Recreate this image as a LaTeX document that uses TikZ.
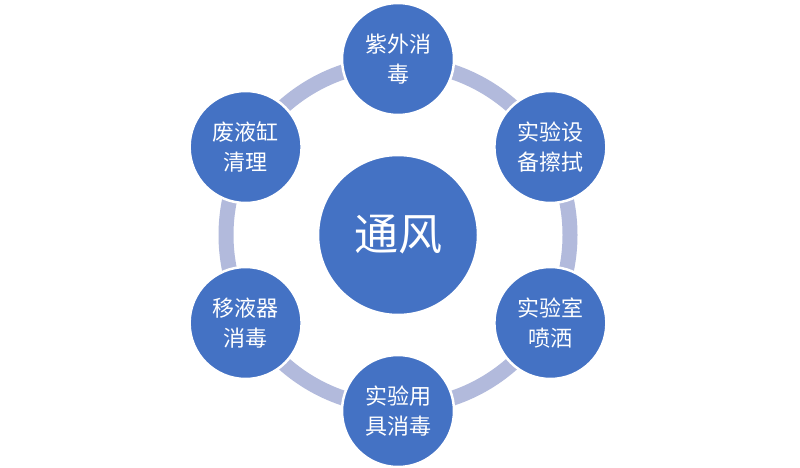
\documentclass[tikz,border=0pt]{standalone}
\usepackage{fontspec}
\newfontfamily\cjk{Noto Sans CJK SC}
\definecolor{circblue}{RGB}{68,114,196}
\definecolor{ringblue}{RGB}{178,186,220}
\begin{document}
\begin{tikzpicture}[x=1pt,y=-1pt,
  smallcirc/.style={circle,fill=circblue,draw=white,line width=2.5pt,minimum size=112pt,inner sep=0pt,
    text=white,align=center,font=\cjk\fontsize{22}{30}\selectfont},
  bigcirc/.style={circle,fill=circblue,draw=white,line width=2.5pt,minimum size=160pt,inner sep=0pt,
    text=white,font=\cjk\fontsize{44}{50}\selectfont},
  ring/.style={draw=ringblue,line width=15pt}]
\useasboundingbox[fill=white] (0,0) rectangle (800,468);
\coordinate (c) at (398,235);
\draw[ring] (c) circle (172);
\node[bigcirc] (center) at (c) {通风};
\node[smallcirc] (n1) at (398,59) {紫外消\\毒};
\node[smallcirc] (n2) at (550.4,147) {实验设\\备擦拭};
\node[smallcirc] (n3) at (550.4,323) {实验室\\喷洒};
\node[smallcirc] (n4) at (398,411) {实验用\\具消毒};
\node[smallcirc] (n5) at (245.6,323) {移液器\\消毒};
\node[smallcirc] (n6) at (245.6,147) {废液缸\\清理};
\end{tikzpicture}
\end{document}
